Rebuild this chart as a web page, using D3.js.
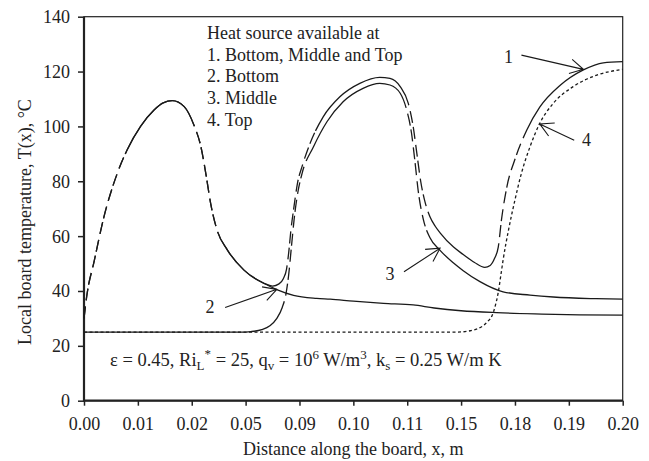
<!DOCTYPE html>
<html>
<head>
<meta charset="utf-8">
<script src="https://cdn.jsdelivr.net/npm/d3@7"></script>
<style>
    body { margin: 0; background: #fff; }
    text { font-family: "Liberation Serif", "Times New Roman", serif; fill: #222; }
</style>
</head>
<body>
<div id="chart"></div>
<script>
// the x axis is evenly spaced but labelled with uneven distances,
// so every x below is a position in tick units (0 = first tick, 10 = last)
const xTickLabels = ['0.00', '0.01', '0.02', '0.05', '0.09', '0.10', '0.11', '0.15', '0.18', '0.19', '0.20'];
const yTicks = [0, 20, 40, 60, 80, 100, 120, 140];

const legendLines = [
    'Heat source available at',
    '1. Bottom, Middle and Top',
    '2. Bottom',
    '3. Middle',
    '4. Top'
];

// 2. bottom only
const curveBottom = [
    [0, 30], [0.05, 38], [0.19, 51], [0.37, 67], [0.62, 83], [0.8, 91.4], [1.05, 100], [1.3, 106],
    [1.47, 108.6], [1.64, 109.4], [1.86, 107.2], [2.04, 100.5], [2.17, 92.6], [2.26, 83], [2.35, 72],
    [2.47, 62.2], [2.66, 55], [2.97, 47.6], [3.34, 42.8], [3.59, 40.4], [3.89, 38.4], [4.32, 37.3],
    [4.57, 37], [5.0, 36.3], [5.56, 35.5], [6.11, 34.9], [6.5, 33.8], [7.0, 32.8], [7.66, 32.1],
    [8.5, 31.6], [9.2, 31.3], [10, 31.2]
];

// 1. bottom, middle and top
const curveAll = [
    [0, 30], [0.05, 38], [0.19, 51], [0.37, 67], [0.62, 83], [0.8, 91.4], [1.05, 100], [1.3, 106],
    [1.47, 108.6], [1.64, 109.4], [1.86, 107.2], [2.04, 100.5], [2.17, 92.6], [2.26, 83], [2.35, 72],
    [2.47, 62.2], [2.66, 55], [2.97, 47.6], [3.34, 42.8], [3.5, 41.8], [3.62, 42.6], [3.7, 44.5],
    [3.76, 48], [3.8, 54], [3.84, 62], [3.9, 71], [3.96, 79], [4.05, 85.5], [4.2, 94], [4.44, 103.5],
    [4.75, 110.8], [5.12, 115.7], [5.49, 117.9], [5.68, 117.5], [5.87, 114.5], [6.02, 108.4],
    [6.11, 100], [6.18, 90], [6.25, 80], [6.33, 72.5], [6.42, 67.2], [6.52, 63.6], [6.61, 61.2],
    [6.86, 56], [7.04, 53.3], [7.25, 50.4], [7.44, 48.6], [7.54, 49.3], [7.62, 51.8], [7.69, 56],
    [7.75, 66], [7.85, 78], [8.0, 88], [8.22, 98.7], [8.46, 107], [8.84, 115], [9.27, 120.6],
    [9.64, 123.2], [10, 123.6]
];

// 3. middle only
const curveMiddle = [
    [0, 25], [2.9, 25], [3.1, 25.2], [3.3, 25.9], [3.45, 27.3], [3.58, 30], [3.68, 34], [3.75, 39],
    [3.8, 46], [3.85, 56], [3.9, 66], [3.97, 76], [4.05, 83], [4.26, 92.6], [4.51, 101.7], [4.81, 109],
    [5.18, 113.9], [5.49, 115.7], [5.68, 115.1], [5.87, 112.1], [5.99, 106], [6.08, 97.5], [6.14, 87.8],
    [6.21, 75.6], [6.3, 66], [6.42, 59.5], [6.61, 54.8], [6.86, 50.2], [7.04, 47.4], [7.35, 43.4],
    [7.78, 39.7], [8.28, 38.5], [8.71, 37.8], [9.5, 37.2], [10, 37]
];

// 4. top only
const curveTop = [
    [0, 25], [6.9, 25], [7.17, 25.5], [7.3, 26.2], [7.41, 27.3], [7.5, 29], [7.57, 30.8], [7.64, 35],
    [7.69, 39.5], [7.74, 46], [7.78, 51.3], [7.88, 62.2], [8.0, 73.2], [8.12, 82.9], [8.28, 92.6],
    [8.46, 101.1], [8.71, 108.4], [9.08, 114.5], [9.52, 118.7], [10, 120.8]
];

// arrows: label position, tail and tip, all in chart units
const arrows = [
    { label: '1', at: [7.88, 125.4], from: [8.12, 126], to: [9.27, 120.8] },
    { label: '2', at: [2.34, 34.3], from: [2.62, 34], to: [3.58, 40.6] },
    { label: '3', at: [5.68, 46.4], from: [5.94, 47], to: [6.61, 55.6] },
    { label: '4', at: [9.33, 95], from: [9.1, 95], to: [8.46, 100.9] }
];

const width = 649, height = 461;
const margin = { top: 16.7, right: 26.3, bottom: 60.3, left: 84 };

const svg = d3.select('#chart').append('svg')
    .attr('width', width)
    .attr('height', height)
    .style('display', 'block');

svg.append('rect').attr('width', width).attr('height', height).attr('fill', '#fff');

const x = d3.scaleLinear().domain([0, 10]).range([margin.left, width - margin.right]);
const y = d3.scaleLinear().domain([0, 140]).range([height - margin.bottom, margin.top]);

// axes
const yAxis = svg.append('g')
    .attr('transform', `translate(${margin.left},0)`)
    .call(d3.axisLeft(y).tickValues(yTicks).tickSize(6).tickPadding(8));
yAxis.select('.domain').remove();
yAxis.selectAll('line').attr('stroke', '#222').attr('stroke-width', 1.5);
yAxis.selectAll('text')
    .attr('font-size', 18)
    .attr('font-family', '"Liberation Serif", serif')
    .attr('fill', '#222')
    .attr('dy', '0.33em');

const xAxis = svg.append('g')
    .attr('transform', `translate(0,${height - margin.bottom})`)
    .call(d3.axisBottom(x).tickValues(d3.range(11)).tickFormat(i => xTickLabels[i]).tickSize(5));
xAxis.select('.domain').remove();
xAxis.selectAll('line').attr('stroke', '#222').attr('stroke-width', 1.5);
xAxis.selectAll('text')
    .attr('font-size', 18)
    .attr('font-family', '"Liberation Serif", serif')
    .attr('fill', '#222')
    .attr('y', 29.5)
    .attr('dy', 0);

// frame: heavy left/bottom, thin top/right
svg.append('rect')
    .attr('x', margin.left).attr('y', margin.top)
    .attr('width', x(10) - x(0)).attr('height', y(0) - y(140))
    .attr('fill', 'none').attr('stroke', '#222').attr('stroke-width', 1.2);
svg.append('path')
    .attr('d', `M${x(0)},${y(140)}V${y(0)}H${x(10)}`)
    .attr('fill', 'none').attr('stroke', '#222').attr('stroke-width', 2.2);

// axis titles
svg.append('text')
    .attr('x', (x(0) + x(10)) / 2)
    .attr('y', 455)
    .attr('text-anchor', 'middle')
    .attr('font-size', 18)
    .text('Distance along the board, x, m');

svg.append('text')
    .attr('transform', 'translate(31,222) rotate(-90)')
    .attr('text-anchor', 'middle')
    .attr('font-size', 18)
    .text('Local board temperature, T(x), \u00B0C');

// curves
const line = d3.line()
    .x(d => x(d[0]))
    .y(d => y(d[1]))
    .curve(d3.curveMonotoneX);

const plot = svg.append('g');

// steep stretches of the solid curves come out broken in the original print
function steepDash(path) {
    const node = path.node();
    const len = node.getTotalLength();
    const step = 2;
    const arr = [];
    const push = (on, l) => {
        if (arr.length === 0) {
            if (!on) arr.push(0);
            arr.push(l);
            return;
        }
        const lastOn = (arr.length - 1) % 2 === 0;
        if (lastOn === on) arr[arr.length - 1] += l;
        else arr.push(l);
    };
    let prev = node.getPointAtLength(0);
    let dashPos = 0;
    for (let s = step; s <= len + step; s += step) {
        const p = node.getPointAtLength(Math.min(s, len));
        const dx = Math.abs(p.x - prev.x), dy = Math.abs(p.y - prev.y);
        const steep = dy > 2.1 * dx;
        if (steep) {
            const on = (dashPos % 17) < 12;
            push(on, step);
            dashPos += step;
        } else {
            push(true, step);
            dashPos = 0;
        }
        prev = p;
    }
    if (arr.length % 2 === 1) arr.push(50);
    path.attr('stroke-dasharray', arr.join(','));
}

[curveBottom, curveAll, curveMiddle].forEach(data => {
    const p = plot.append('path')
        .datum(data)
        .attr('fill', 'none')
        .attr('stroke', '#1a1a1a')
        .attr('stroke-width', 1.3)
        .attr('d', line);
    steepDash(p);
});

plot.append('path')
    .datum(curveTop)
    .attr('fill', 'none')
    .attr('stroke', '#1a1a1a')
    .attr('stroke-width', 1.3)
    .attr('stroke-dasharray', '3,2.5')
    .attr('d', line);

// legend text
svg.append('g')
    .selectAll('text')
    .data(legendLines)
    .join('text')
    .attr('x', 207)
    .attr('y', (d, i) => 39 + i * 21.7)
    .attr('font-size', 18)
    .text(d => d);

// arrows with open heads
const arrowG = svg.append('g');
arrows.forEach(a => {
    const x1 = x(a.from[0]), y1 = y(a.from[1]);
    const x2 = x(a.to[0]), y2 = y(a.to[1]);
    const ang = Math.atan2(y2 - y1, x2 - x1);
    const head = 15, spread = 0.5;
    arrowG.append('path')
        .attr('d', `M${x1},${y1}L${x2},${y2}` +
            `M${x2 - head * Math.cos(ang - spread)},${y2 - head * Math.sin(ang - spread)}L${x2},${y2}` +
            `L${x2 - head * Math.cos(ang + spread)},${y2 - head * Math.sin(ang + spread)}`)
        .attr('fill', 'none')
        .attr('stroke', '#1a1a1a')
        .attr('stroke-width', 1.1);
    arrowG.append('text')
        .attr('x', x(a.at[0]))
        .attr('y', y(a.at[1]))
        .attr('dy', '0.35em')
        .attr('text-anchor', 'middle')
        .attr('font-size', 18)
        .text(a.label);
});

// parameter line
const params = svg.append('text')
    .attr('x', 110)
    .attr('y', 366)
    .attr('font-size', 18.5);
const seg = (t, shift, size) => {
    params.append('tspan')
        .attr('dy', shift)
        .attr('font-size', size || 18.5)
        .text(t);
};
seg('\u03B5 = 0.45, Ri', 0);
seg('L', 4, 13);
seg('*', -12, 13);
seg(' = 25, q', 8);
seg('v', 4, 13);
seg(' = 10', -4);
seg('6', -7, 13);
seg(' W/m', 7);
seg('3', -7, 13);
seg(', k', 7);
seg('s', 4, 13);
seg(' = 0.25 W/m K', -4);
</script>
</body>
</html>
